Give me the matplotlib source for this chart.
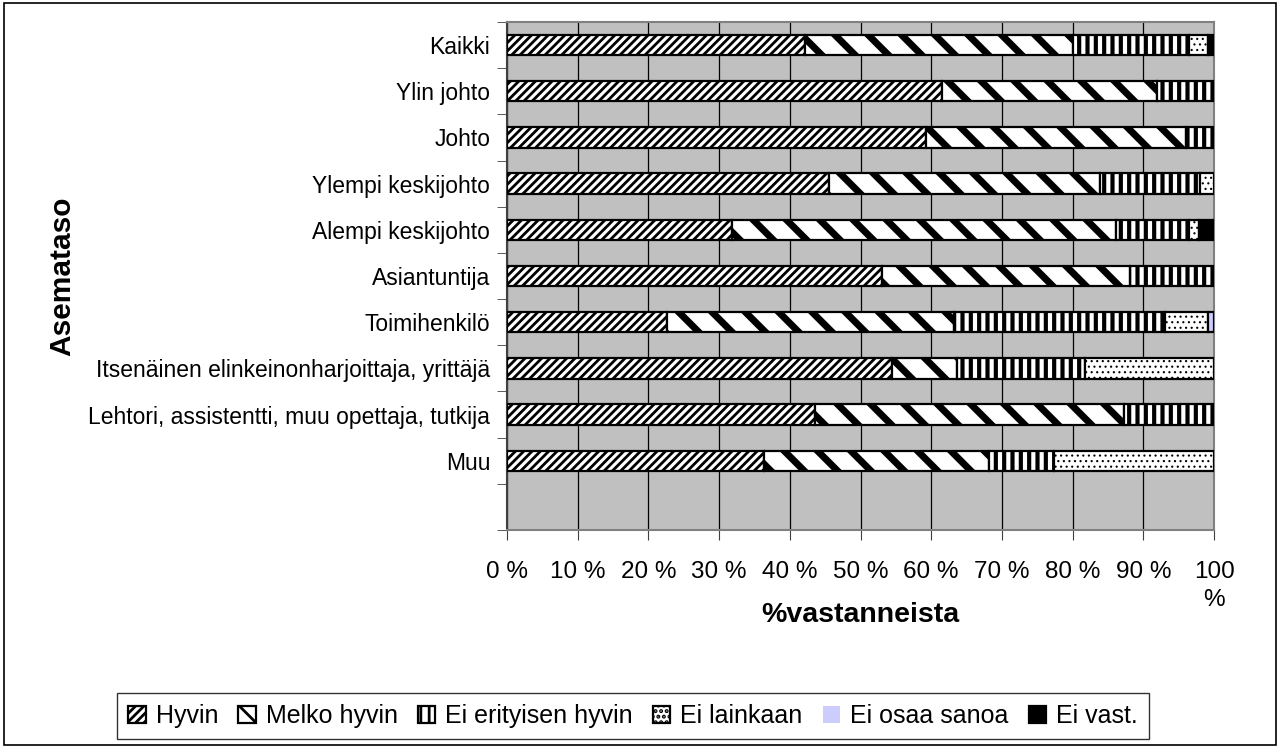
import matplotlib
matplotlib.use("Agg")
import matplotlib.pyplot as plt
from matplotlib.patches import Rectangle
import numpy as np

plt.rcParams['font.family'] = ['Liberation Sans', 'DejaVu Sans']
plt.rcParams['hatch.color'] = 'black'
plt.rcParams['hatch.linewidth'] = 2.0

# categories, top to bottom (the last slot is empty, as in the original)
categories = ["Kaikki", "Ylin johto", "Johto", "Ylempi keskijohto", "Alempi keskijohto",
              "Asiantuntija", "Toimihenkilö", "Itsenäinen elinkeinonharjoittaja, yrittäjä",
              "Lehtori, assistentti, muu opettaja, tutkija", "Muu", ""]

# % of respondents per answer
hyvin         = [42.2, 61.5, 59.2, 45.5, 31.8, 53.1, 22.6, 54.5, 43.6, 36.4, 0]
melko_hyvin   = [37.9, 30.5, 36.9, 38.4, 54.4, 35.0, 40.6,  9.1, 43.6, 31.8, 0]
ei_erityisen  = [16.3,  8.0,  3.9, 14.1, 10.2, 11.9, 29.9, 18.2, 12.8,  9.1, 0]
ei_lainkaan   = [ 2.7,  0.0,  0.0,  2.0,  1.5,  0.0,  6.1, 18.2,  0.0, 22.7, 0]
ei_osaa_sanoa = [ 0.0,  0.0,  0.0,  0.0,  0.0,  0.0,  0.8,  0.0,  0.0,  0.0, 0]
ei_vast       = [ 0.9,  0.0,  0.0,  0.0,  2.1,  0.0,  0.0,  0.0,  0.0,  0.0, 0]

series_names = ["Hyvin", "Melko hyvin", "Ei erityisen hyvin", "Ei lainkaan", "Ei osaa sanoa", "Ei vast."]
series = [hyvin, melko_hyvin, ei_erityisen, ei_lainkaan, ei_osaa_sanoa, ei_vast]

# (face, hatch, hatch linewidth)
styles = [
    ('white', '////', 2.0),
    ('white', '\\', 5.0),
    ('white', '||', 3.0),
    ('white', '...', 0.8),
    ('#ccccff', None, 1.0),
    ('black', None, 1.0),
]

fig = plt.figure(figsize=(12.82, 7.47), dpi=100)
ax = fig.add_axes([507 / 1282, 1 - 530 / 747, 707 / 1282, 508 / 747])
ax.set_facecolor('#c0c0c0')

y = np.arange(len(categories))
left = np.zeros(len(categories))
handles = []
for name, vals, (fc, hatch, hlw) in zip(series_names, series, styles):
    vals = np.array(vals, dtype=float)
    lws = np.where(vals > 0, 1.6, 0.0)
    bars = ax.barh(y, vals, left=left, height=0.44, color=fc, edgecolor='black',
                   linewidth=lws, hatch=hatch, label=name, zorder=3)
    for p in bars:
        if hasattr(p, 'set_hatch_linewidth'):
            p.set_hatch_linewidth(hlw)
    handles.append(bars)
    left += vals

ax.set_xlim(0, 100)
ax.set_ylim(len(categories) - 0.5, -0.5)

ax.set_xticks(np.arange(0, 101, 10))
ax.set_xticklabels([f"{v} %" for v in range(0, 100, 10)] + ["100\n%"], linespacing=1.35)
ax.tick_params(axis='x', labelsize=17.5, length=7, direction='out', pad=15, color='#404040')

ax.set_yticks(y)
ax.set_yticklabels(categories)
ax.set_yticks(np.arange(-0.5, len(categories), 1), minor=True)
ax.tick_params(axis='y', which='major', length=0, labelsize=16.5, pad=12)
ax.tick_params(axis='y', which='minor', length=7, direction='out', color='#404040')

ax.grid(axis='x', color='black', linewidth=0.9, zorder=1)
ax.set_axisbelow(True)
for side in ['top', 'right', 'bottom']:
    ax.spines[side].set_color('#808080')
    ax.spines[side].set_linewidth(1.5)
ax.spines['left'].set_color('#404040')
ax.spines['left'].set_linewidth(1.5)

fig.text(62 / 1282, 1 - 276 / 747, "Asemataso", rotation=90, fontsize=21.5,
         fontweight='bold', ha='center', va='center')
fig.text(860 / 1282, 1 - 615 / 747, "%vastanneista", fontsize=20.5,
         fontweight='bold', ha='center', va='center')

leg = fig.legend(handles=handles, loc='center', bbox_to_anchor=(633 / 1282, 1 - 716 / 747),
                 ncol=6, fontsize=18, frameon=True, fancybox=False, edgecolor='black',
                 handlelength=0.7, handleheight=0.7, handletextpad=0.4,
                 columnspacing=0.8, borderpad=0.45, borderaxespad=0)
leg.get_frame().set_linewidth(1.0)

fig.patches.append(Rectangle((4 / 1282, 2 / 747), 1272 / 1282, 742 / 747,
                             transform=fig.transFigure, fill=False, edgecolor='black', linewidth=1.2))

fig.savefig("out.png", dpi=100)
